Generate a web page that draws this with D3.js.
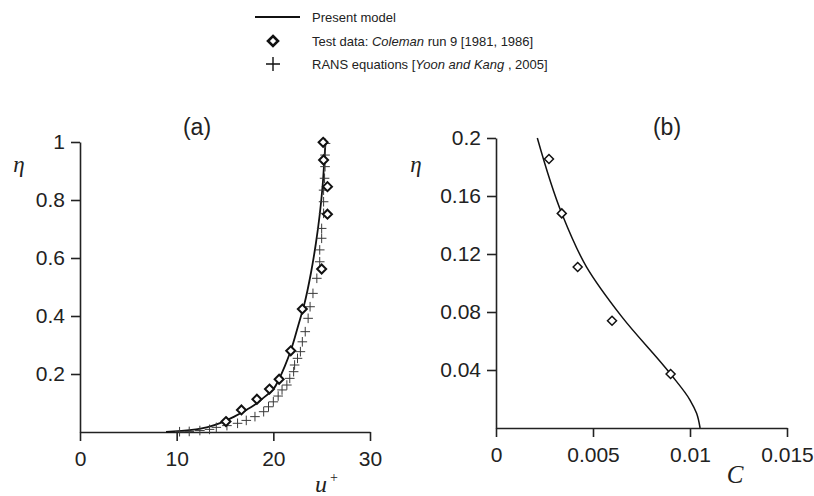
<!DOCTYPE html>
<html>
<head>
<meta charset="utf-8">
<script src="https://cdn.jsdelivr.net/npm/d3@7"></script>
<style>
  body { margin: 0; background: #fff; }
  svg { display: block; }
  .tick text { font-family: "Liberation Sans", Arial, sans-serif; font-size: 21px; fill: #222; }
  .domain, .tick line { stroke: #222; stroke-width: 1.6; }
</style>
</head>
<body>
<svg id="chart" width="814" height="496"></svg>
<script>
// panel (a): velocity profile, u+ vs eta
var presentModelA = [
  [8.9, 0.0], [10.5, 0.004], [12.0, 0.009], [13.2, 0.017], [14.8, 0.035], [16.0, 0.054],
  [17.2, 0.076], [18.0, 0.092], [18.8, 0.113], [20.0, 0.148], [20.6, 0.183], [21.2, 0.228],
  [21.8, 0.28], [22.6, 0.37], [23.2, 0.44], [23.9, 0.55], [24.4, 0.65], [24.8, 0.75],
  [25.1, 0.85], [25.3, 0.95], [25.4, 1.0]
];
var colemanA = [
  [15.1, 0.036], [16.7, 0.076], [18.3, 0.113], [19.6, 0.148], [20.6, 0.182], [21.8, 0.28],
  [23.0, 0.424], [25.0, 0.562], [25.6, 0.751], [25.6, 0.846], [25.2, 0.938], [25.15, 0.999]
];
var ransA = [
  [10.3, 0.001], [11.3, 0.002], [12.4, 0.005], [13.4, 0.009], [14.1, 0.016], [15.2, 0.022],
  [16.3, 0.030], [17.2, 0.040], [18.1, 0.053], [19.0, 0.070], [19.5, 0.087], [20.0, 0.104],
  [20.5, 0.124], [20.9, 0.145], [21.4, 0.162], [21.7, 0.185], [22.1, 0.208], [22.2, 0.231],
  [22.5, 0.254], [22.8, 0.277], [23.0, 0.311], [23.3, 0.346], [23.6, 0.392], [23.8, 0.432],
  [24.1, 0.478], [24.5, 0.53], [24.8, 0.587], [24.8, 0.628], [25.0, 0.668], [25.0, 0.702],
  [25.2, 0.754], [25.2, 0.794], [25.2, 0.834], [25.3, 0.875], [25.35, 0.915], [25.35, 0.955],
  [25.4, 0.995]
];
var xTicksA = [0, 10, 20, 30];
var yTicksA = [0.2, 0.4, 0.6, 0.8, 1];

// panel (b): concentration profile, C vs eta
var presentModelB = [
  [0.01052, 0.0], [0.01034, 0.0101], [0.0100, 0.0193], [0.0090, 0.0372], [0.00648, 0.0768],
  [0.00467, 0.111], [0.00339, 0.148], [0.00213, 0.200]
];
var colemanB = [
  [0.00273, 0.1855], [0.00339, 0.148], [0.00421, 0.111], [0.00598, 0.074], [0.0090, 0.0372]
];
var xTicksB = [0, 0.005, 0.01, 0.015];
var yTicksB = [0.04, 0.08, 0.12, 0.16, 0.2];

var svg = d3.select("#chart");
var sansFont = "'Liberation Sans', Arial, sans-serif";
var serifFont = "'Liberation Serif', 'Times New Roman', serif";

function diamondPath(r) {
  return "M0," + (-r) + "L" + r + ",0L0," + r + "L" + (-r) + ",0Z";
}
function plusPath(r) {
  return "M" + (-r) + ",0H" + r + "M0," + (-r) + "V" + r;
}

/**
 * one panel: axes, model line, markers
 */
function drawPanel(box, xDomain, yDomain, xTicks, yTicks, model, diamonds, pluses, lineWidth, diamondWidth) {
  var x = d3.scaleLinear().domain(xDomain).range([box.left, box.right]);
  var y = d3.scaleLinear().domain(yDomain).range([box.bottom, box.top]);
  var g = svg.append("g");

  g.append("g")
    .attr("transform", "translate(0," + box.bottom + ")")
    .call(d3.axisBottom(x).tickValues(xTicks).tickSizeInner(9).tickSizeOuter(0).tickPadding(10).tickFormat(d => String(d)));

  g.append("g")
    .attr("transform", "translate(" + box.left + ",0)")
    .call(d3.axisLeft(y).tickValues(yTicks).tickSizeInner(9).tickSizeOuter(0).tickPadding(6).tickFormat(d => String(d)));

  var line = d3.line()
    .x(d => x(d[0]))
    .y(d => y(d[1]))
    .curve(d3.curveMonotoneY);

  var sorted = model.slice().sort((a, b) => a[1] - b[1]);
  g.append("path")
    .datum(sorted)
    .attr("fill", "none")
    .attr("stroke", "#111")
    .attr("stroke-width", lineWidth)
    .attr("d", line);

  if (pluses) {
    g.selectAll(".rans")
      .data(pluses)
      .enter().append("path")
      .attr("class", "rans")
      .attr("transform", d => "translate(" + x(d[0]) + "," + y(d[1]) + ")")
      .attr("d", plusPath(4.8))
      .attr("fill", "none")
      .attr("stroke", "#3a3a3a")
      .attr("stroke-width", 1);
  }

  g.selectAll(".test")
    .data(diamonds)
    .enter().append("path")
    .attr("class", "test")
    .attr("transform", d => "translate(" + x(d[0]) + "," + y(d[1]) + ")")
    .attr("d", diamondPath(4.5))
    .attr("fill", "#fff")
    .attr("stroke", "#111")
    .attr("stroke-width", diamondWidth);
}

drawPanel({ left: 80, right: 370, top: 142, bottom: 432 }, [0, 30], [0, 1],
  xTicksA, yTicksA, presentModelA, colemanA, ransA, 1.8, 2);
drawPanel({ left: 496, right: 787, top: 138, bottom: 428 }, [0, 0.015], [0, 0.2],
  xTicksB, yTicksB, presentModelB, colemanB, null, 1.5, 1.5);

// panel titles
svg.append("text").attr("x", 197).attr("y", 135).attr("text-anchor", "middle")
  .style("font-family", sansFont).style("font-size", "23px").style("fill", "#222").text("(a)");
svg.append("text").attr("x", 667).attr("y", 135).attr("text-anchor", "middle")
  .style("font-family", sansFont).style("font-size", "23px").style("fill", "#222").text("(b)");

// axis titles
[19, 416].forEach(function(xPos) {
  svg.append("text").attr("x", xPos).attr("y", 172).attr("text-anchor", "middle")
    .style("font-family", serifFont).style("font-style", "italic").style("font-size", "23px")
    .style("fill", "#222").text("η");
});
svg.append("text").attr("x", 321).attr("y", 492).attr("text-anchor", "middle")
  .style("font-family", serifFont).style("font-style", "italic").style("font-size", "24px")
  .style("fill", "#222").text("u");
svg.append("text").attr("x", 334).attr("y", 482).attr("text-anchor", "middle")
  .style("font-family", serifFont).style("font-size", "14px").style("fill", "#222").text("+");
svg.append("text").attr("x", 735).attr("y", 483).attr("text-anchor", "middle")
  .style("font-family", serifFont).style("font-style", "italic").style("font-size", "25px")
  .style("fill", "#222").text("C");

/**
 * legend
 */
var legend = svg.append("g").style("font-family", sansFont).style("font-size", "13px").style("fill", "#222");
legend.append("line").attr("x1", 255).attr("x2", 300).attr("y1", 17).attr("y2", 17)
  .attr("stroke", "#111").attr("stroke-width", 1.8);
legend.append("path").attr("transform", "translate(273,41)").attr("d", diamondPath(5))
  .attr("fill", "#fff").attr("stroke", "#111").attr("stroke-width", 2.6);
legend.append("path").attr("transform", "translate(273,64)").attr("d", plusPath(7))
  .attr("fill", "none").attr("stroke", "#111").attr("stroke-width", 1.4);

legend.append("text").attr("x", 312).attr("y", 22).text("Present model");
var t2 = legend.append("text").attr("x", 312).attr("y", 46);
t2.append("tspan").text("Test data: ");
t2.append("tspan").style("font-style", "italic").text("Coleman");
t2.append("tspan").text(" run 9 [1981, 1986]");
var t3 = legend.append("text").attr("x", 312).attr("y", 69);
t3.append("tspan").text("RANS equations [");
t3.append("tspan").style("font-style", "italic").text("Yoon and Kang");
t3.append("tspan").text(" , 2005]");
</script>
</body>
</html>
